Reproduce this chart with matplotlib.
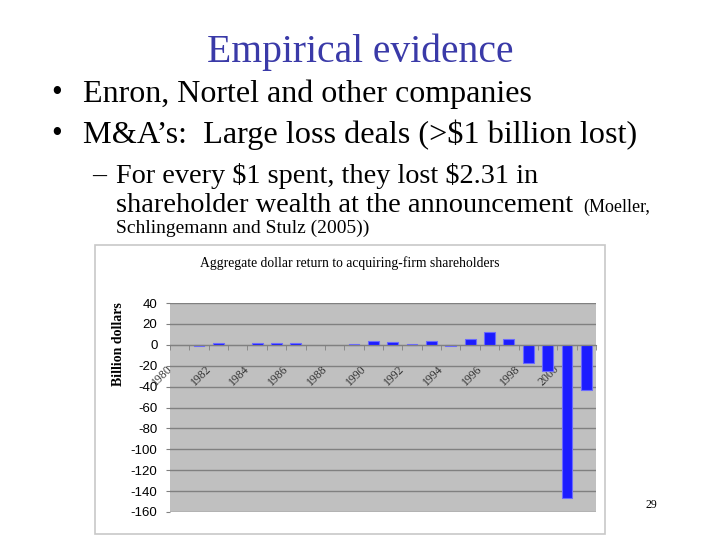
import numpy as np
import matplotlib
matplotlib.use("Agg")
import matplotlib.pyplot as plt
from matplotlib.patches import Rectangle
from matplotlib.transforms import ScaledTranslation

plt.rcParams['axes.unicode_minus'] = False

# Данные: совокупная долларовая доходность акционеров покупателя (млрд $)
years = list(range(1980, 2002))
returns = [np.nan, -1.5, 1.5, np.nan, 1.5, 1.5, 1.5, np.nan, np.nan, 0.5,
           3.5, 2.5, 0.5, 3.5, -1.5, 5.5, 12.5, 5.5, -17, -25, -147, -43]
yticks = list(range(40, -161, -20))

W, H = 720, 540
fig = plt.figure(figsize=(7.2, 5.4), dpi=100)
fig.patch.set_facecolor('white')

def fx(x):
    return x / W

def fy(y):
    return 1 - y / H

serif = 'Liberation Serif'

# Текст слайда
fig.text(fx(360), fy(62), 'Empirical evidence', family=serif, fontsize=28.5,
         color='#3a3aa8', ha='center', va='baseline')
fig.text(fx(57), fy(101), '•', family=serif, fontsize=22, ha='center', va='baseline')
fig.text(fx(83), fy(102), 'Enron, Nortel and other companies', family=serif,
         fontsize=23, va='baseline')
fig.text(fx(57), fy(142), '•', family=serif, fontsize=22, ha='center', va='baseline')
fig.text(fx(83), fy(143), r'M&A’s:  Large loss deals (>\$1 billion lost)', family=serif,
         fontsize=23.2, va='baseline')
fig.text(fx(92), fy(183), '–', family=serif, fontsize=20, va='baseline')
fig.text(fx(116), fy(183), r'For every \$1 spent, they lost \$2.31 in', family=serif,
         fontsize=20.3, va='baseline')
fig.text(fx(116), fy(212), 'shareholder wealth at the announcement', family=serif,
         fontsize=20.4, va='baseline')
fig.text(fx(650), fy(212), '(Moeller,', family=serif, fontsize=13, ha='right', va='baseline')
fig.text(fx(116), fy(233), 'Schlingemann and Stulz (2005))', family=serif,
         fontsize=14, va='baseline')
fig.text(fx(651), fy(508), '29', family=serif, fontsize=8.5, ha='center', va='baseline')

# Рамка диаграммы
fig.patches.append(Rectangle((fx(95), fy(534)), (605 - 95) / W, (534 - 245) / H,
                             transform=fig.transFigure, facecolor='white',
                             edgecolor='#c8c8c8', lw=1.2, zorder=-1))

fig.text(fx(350), fy(267), 'Aggregate dollar return to acquiring-firm shareholders',
         family=serif, fontsize=9.8, ha='center', va='baseline')
fig.text(fx(118), fy(344), 'Billion dollars', family=serif, fontsize=10,
         fontweight='bold', rotation=90, ha='center', va='center')

# Область графика
ax = fig.add_axes([fx(170), fy(512), (596 - 170) / W, (512 - 303) / H])
ax.set_zorder(2)
ax.set_facecolor('#c0c0c0')
x = np.arange(len(years))
ax.bar(x, returns, width=0.56, color='#1c1cff', edgecolor='#6a6aff', lw=0.8, zorder=3)

ax.set_xlim(-0.5, len(years) - 0.5)
ax.set_ylim(-160, 40)
ax.set_yticks(yticks)
ax.set_yticklabels([str(v) for v in yticks], family='Liberation Sans', fontsize=9.5)
ax.yaxis.grid(True, color='#808080', lw=1, zorder=1)
ax.tick_params(axis='y', length=3, color='#808080', pad=6)

# Ось категорий на нуле
ax.spines['bottom'].set_position(('data', 0))
ax.spines['bottom'].set_color('#808080')
ax.spines['bottom'].set_zorder(4)
for s in ['left', 'right', 'top']:
    ax.spines[s].set_visible(False)

ax.set_xticks(x[::2])
ax.set_xticklabels([str(y) for y in years[::2]], rotation=45, ha='right', va='top',
                   family=serif, fontsize=8.5, color='#333333')
ax.set_xticks(np.arange(-0.5, len(years), 1), minor=True)
ax.tick_params(axis='x', which='major', length=0, pad=13)
ax.tick_params(axis='x', which='minor', length=3.5, color='#808080', direction='out')
for lab in ax.get_xticklabels():
    lab.set_transform(lab.get_transform() + ScaledTranslation(-0.05, 0, fig.dpi_scale_trans))
    lab.set_clip_on(False)

fig.savefig('out.png', dpi=100)
